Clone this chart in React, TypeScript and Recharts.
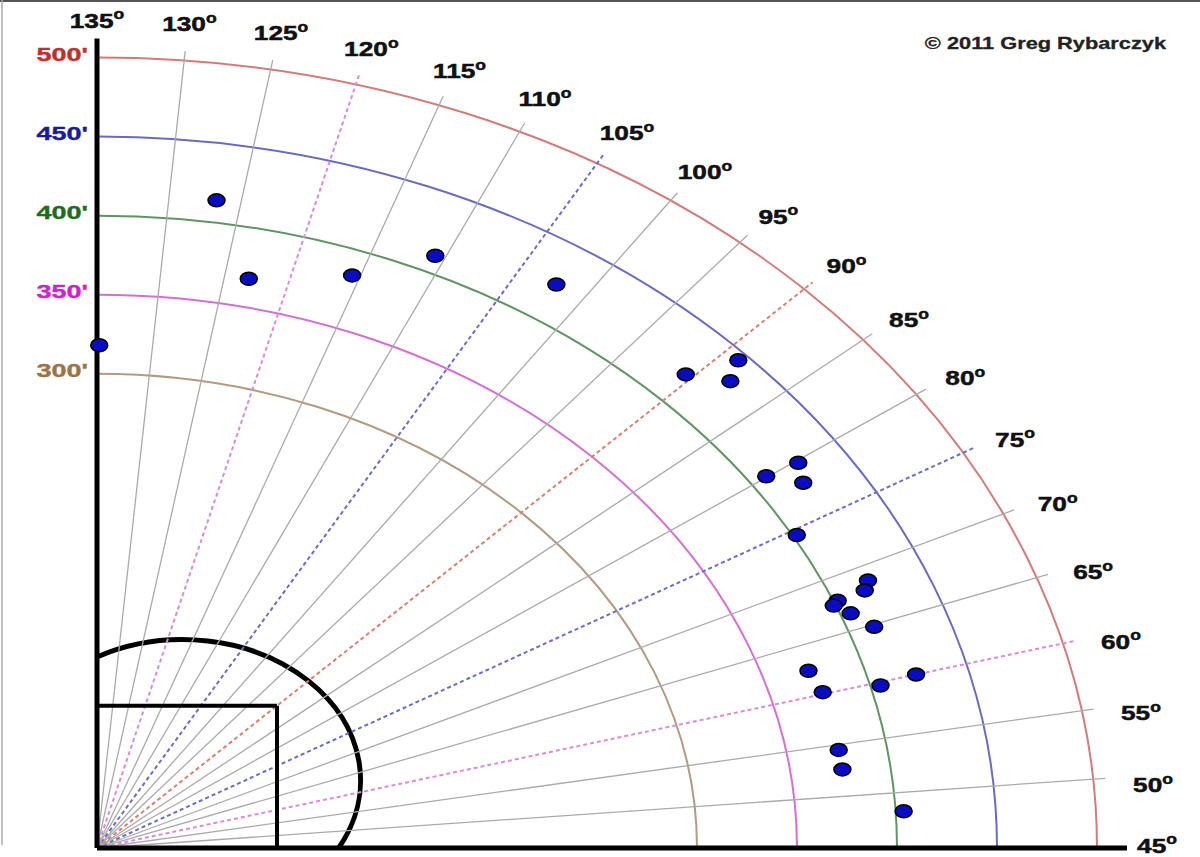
import React from 'react';
import { ScatterChart, Scatter, XAxis, YAxis, ReferenceLine, Customized } from 'recharts';

// home runs: distance in feet and spray angle in degrees (45 = right field line, 135 = left field line)
const HR_DISTANCE = [318, 414, 368, 384, 411, 424, 420, 445, 433, 427, 409, 422, 402, 421, 417, 402, 399, 405, 413, 373, 376, 405, 424, 376, 376, 404];
const HR_ANGLE = [134.8, 126.7, 123.1, 115.6, 110.7, 102.2, 90.5, 88.9, 88.0, 79.8, 80.1, 78.2, 74.5, 68.7, 68.0, 67.9, 67.6, 66.5, 64.8, 62.5, 60.2, 59.7, 60.0, 54.5, 52.6, 48.3];

const RING_DISTANCES = [300, 350, 400, 450, 500];
const RING_COLORS = ['#b39a80', '#d46fd4', '#5f9464', '#6a6ac4', '#d37b7b'];
const RING_LABEL_COLORS = ['#9c7444', '#d021d0', '#1f6b1f', '#1a1a9c', '#c0302c'];

const RAY_ANGLES = [50, 55, 60, 65, 70, 75, 80, 85, 90, 95, 100, 105, 110, 115, 120, 125, 130];
const DASHED_RAYS: Record<number, string> = { 60: '#d98bd9', 75: '#6c6cc8', 90: '#d98070', 105: '#6c6cc8', 120: '#d98bd9' };
const ANGLE_LABELS = [45, 50, 55, 60, 65, 70, 75, 80, 85, 90, 95, 100, 105, 110, 115, 120, 125, 130, 135];

const INFIELD_SIDE = 90;
const MOUND = 60.5;
const INFIELD_ARC = 89;

const W = 1200;
const H = 857;
const X_MIN = -48.5;
const X_MAX = 551.5;
const Y_MIN = -5.69;
const Y_MAX = 536.4;

const px = (x: number) => ((x - X_MIN) / (X_MAX - X_MIN)) * W;
const py = (y: number) => H - ((y - Y_MIN) / (Y_MAX - Y_MIN)) * H;

const toXY = (r: number, angle: number) => {
  const phi = ((angle - 45) * Math.PI) / 180;
  return { x: r * Math.cos(phi), y: r * Math.sin(phi) };
};

const hits = HR_DISTANCE.map((d, i) => ({ ...toXY(d, HR_ANGLE[i]), distance: d, angle: HR_ANGLE[i] }));

const FONT = '"Liberation Sans", Arial, sans-serif';

const Background = () => {
  const ox = px(0);
  const oy = py(0);
  return (
    <g>
      <line x1={0} y1={1} x2={W} y2={1} stroke="#555" strokeWidth={2} />
      <line x1={2} y1={0} x2={2} y2={845} stroke="#aaa" strokeWidth={1.5} />
      {RING_DISTANCES.map((r, i) => {
        const rx = px(r) - ox;
        const ry = oy - py(r);
        return (
          <path
            key={r}
            d={`M ${ox} ${oy - ry} A ${rx} ${ry} 0 0 1 ${ox + rx} ${oy}`}
            fill="none"
            stroke={RING_COLORS[i]}
            strokeWidth={2}
          />
        );
      })}
    </g>
  );
};

const Overlay = () => {
  const m = MOUND * Math.SQRT1_2;
  const rx = px(INFIELD_ARC) - px(0);
  const ry = py(0) - py(INFIELD_ARC);
  const off = Math.sqrt(INFIELD_ARC * INFIELD_ARC - m * m);
  const start = { x: px(0), y: py(m + off) };
  const end = { x: px(m + off), y: py(0) };
  return (
    <g fontFamily={FONT} fontWeight="bold">
      <path
        d={`M ${start.x} ${start.y} A ${rx} ${ry} 0 0 1 ${end.x} ${end.y}`}
        fill="none"
        stroke="#000"
        strokeWidth={5}
      />
      {ANGLE_LABELS.map((a) => {
        const p = toXY(530, a);
        const x = px(p.x);
        const y = Math.min(py(p.y) + 10, 845);
        return (
          <text
            key={a}
            transform={`translate(${x},${y}) scale(1.25,1)`}
            textAnchor="middle"
            dominantBaseline="central"
            fontSize={21}
            fill="#111"
            stroke="#111"
            strokeWidth={0.5}
          >
            {a}
            <tspan fontSize={14} dy={-6}>o</tspan>
          </text>
        );
      })}
      {RING_DISTANCES.map((r, i) => (
        <text
          key={r}
          transform={`translate(88,${py(r) - 3}) scale(1.42,1)`}
          textAnchor="end"
          dominantBaseline="central"
          fontSize={19}
          fill={RING_LABEL_COLORS[i]}
          stroke={RING_LABEL_COLORS[i]}
          strokeWidth={0.4}
        >
          {`${r}'`}
        </text>
      ))}
      <text
        transform="translate(1166,43) scale(1.32,1)"
        textAnchor="end"
        dominantBaseline="central"
        fontSize={16.5}
        fill="#222"
        stroke="#222"
        strokeWidth={0.3}
      >
        © 2011 Greg Rybarczyk
      </text>
    </g>
  );
};

const Dot = (props: any) => {
  const { cx, cy } = props;
  if (cx == null || cy == null) return null;
  return <ellipse cx={cx} cy={cy} rx={8.5} ry={6.5} fill="#0a0cc0" stroke="#000" strokeWidth={1.5} />;
};

export default function App() {
  return (
    <div style={{ position: 'absolute', left: 0, top: 0, background: '#fff' }}>
      <ScatterChart width={W} height={H} margin={{ top: 0, right: 0, bottom: 0, left: 0 }}>
        <XAxis type="number" dataKey="x" domain={[X_MIN, X_MAX]} allowDataOverflow hide />
        <YAxis type="number" dataKey="y" domain={[Y_MIN, Y_MAX]} allowDataOverflow hide />
        <Customized component={Background} />
        {RAY_ANGLES.map((a) => {
          const end = toXY(506, a);
          const dashed = DASHED_RAYS[a];
          return (
            <ReferenceLine
              key={a}
              segment={[{ x: 0, y: 0 }, end]}
              stroke={dashed || '#aaaaaa'}
              strokeWidth={dashed ? 2 : 1.3}
              strokeDasharray={dashed ? '4 3' : undefined}
            />
          );
        })}
        <ReferenceLine segment={[{ x: 0, y: INFIELD_SIDE }, { x: INFIELD_SIDE, y: INFIELD_SIDE }]} stroke="#000" strokeWidth={4} />
        <ReferenceLine segment={[{ x: INFIELD_SIDE, y: 0 }, { x: INFIELD_SIDE, y: INFIELD_SIDE }]} stroke="#000" strokeWidth={4} />
        <ReferenceLine segment={[{ x: 0, y: 0 }, { x: 0, y: 512 }]} stroke="#000" strokeWidth={5} />
        <ReferenceLine segment={[{ x: 0, y: 0 }, { x: 515, y: 0 }]} stroke="#000" strokeWidth={5} />
        <Customized component={Overlay} />
        <Scatter data={hits} shape={Dot} isAnimationActive={false} />
      </ScatterChart>
    </div>
  );
}
